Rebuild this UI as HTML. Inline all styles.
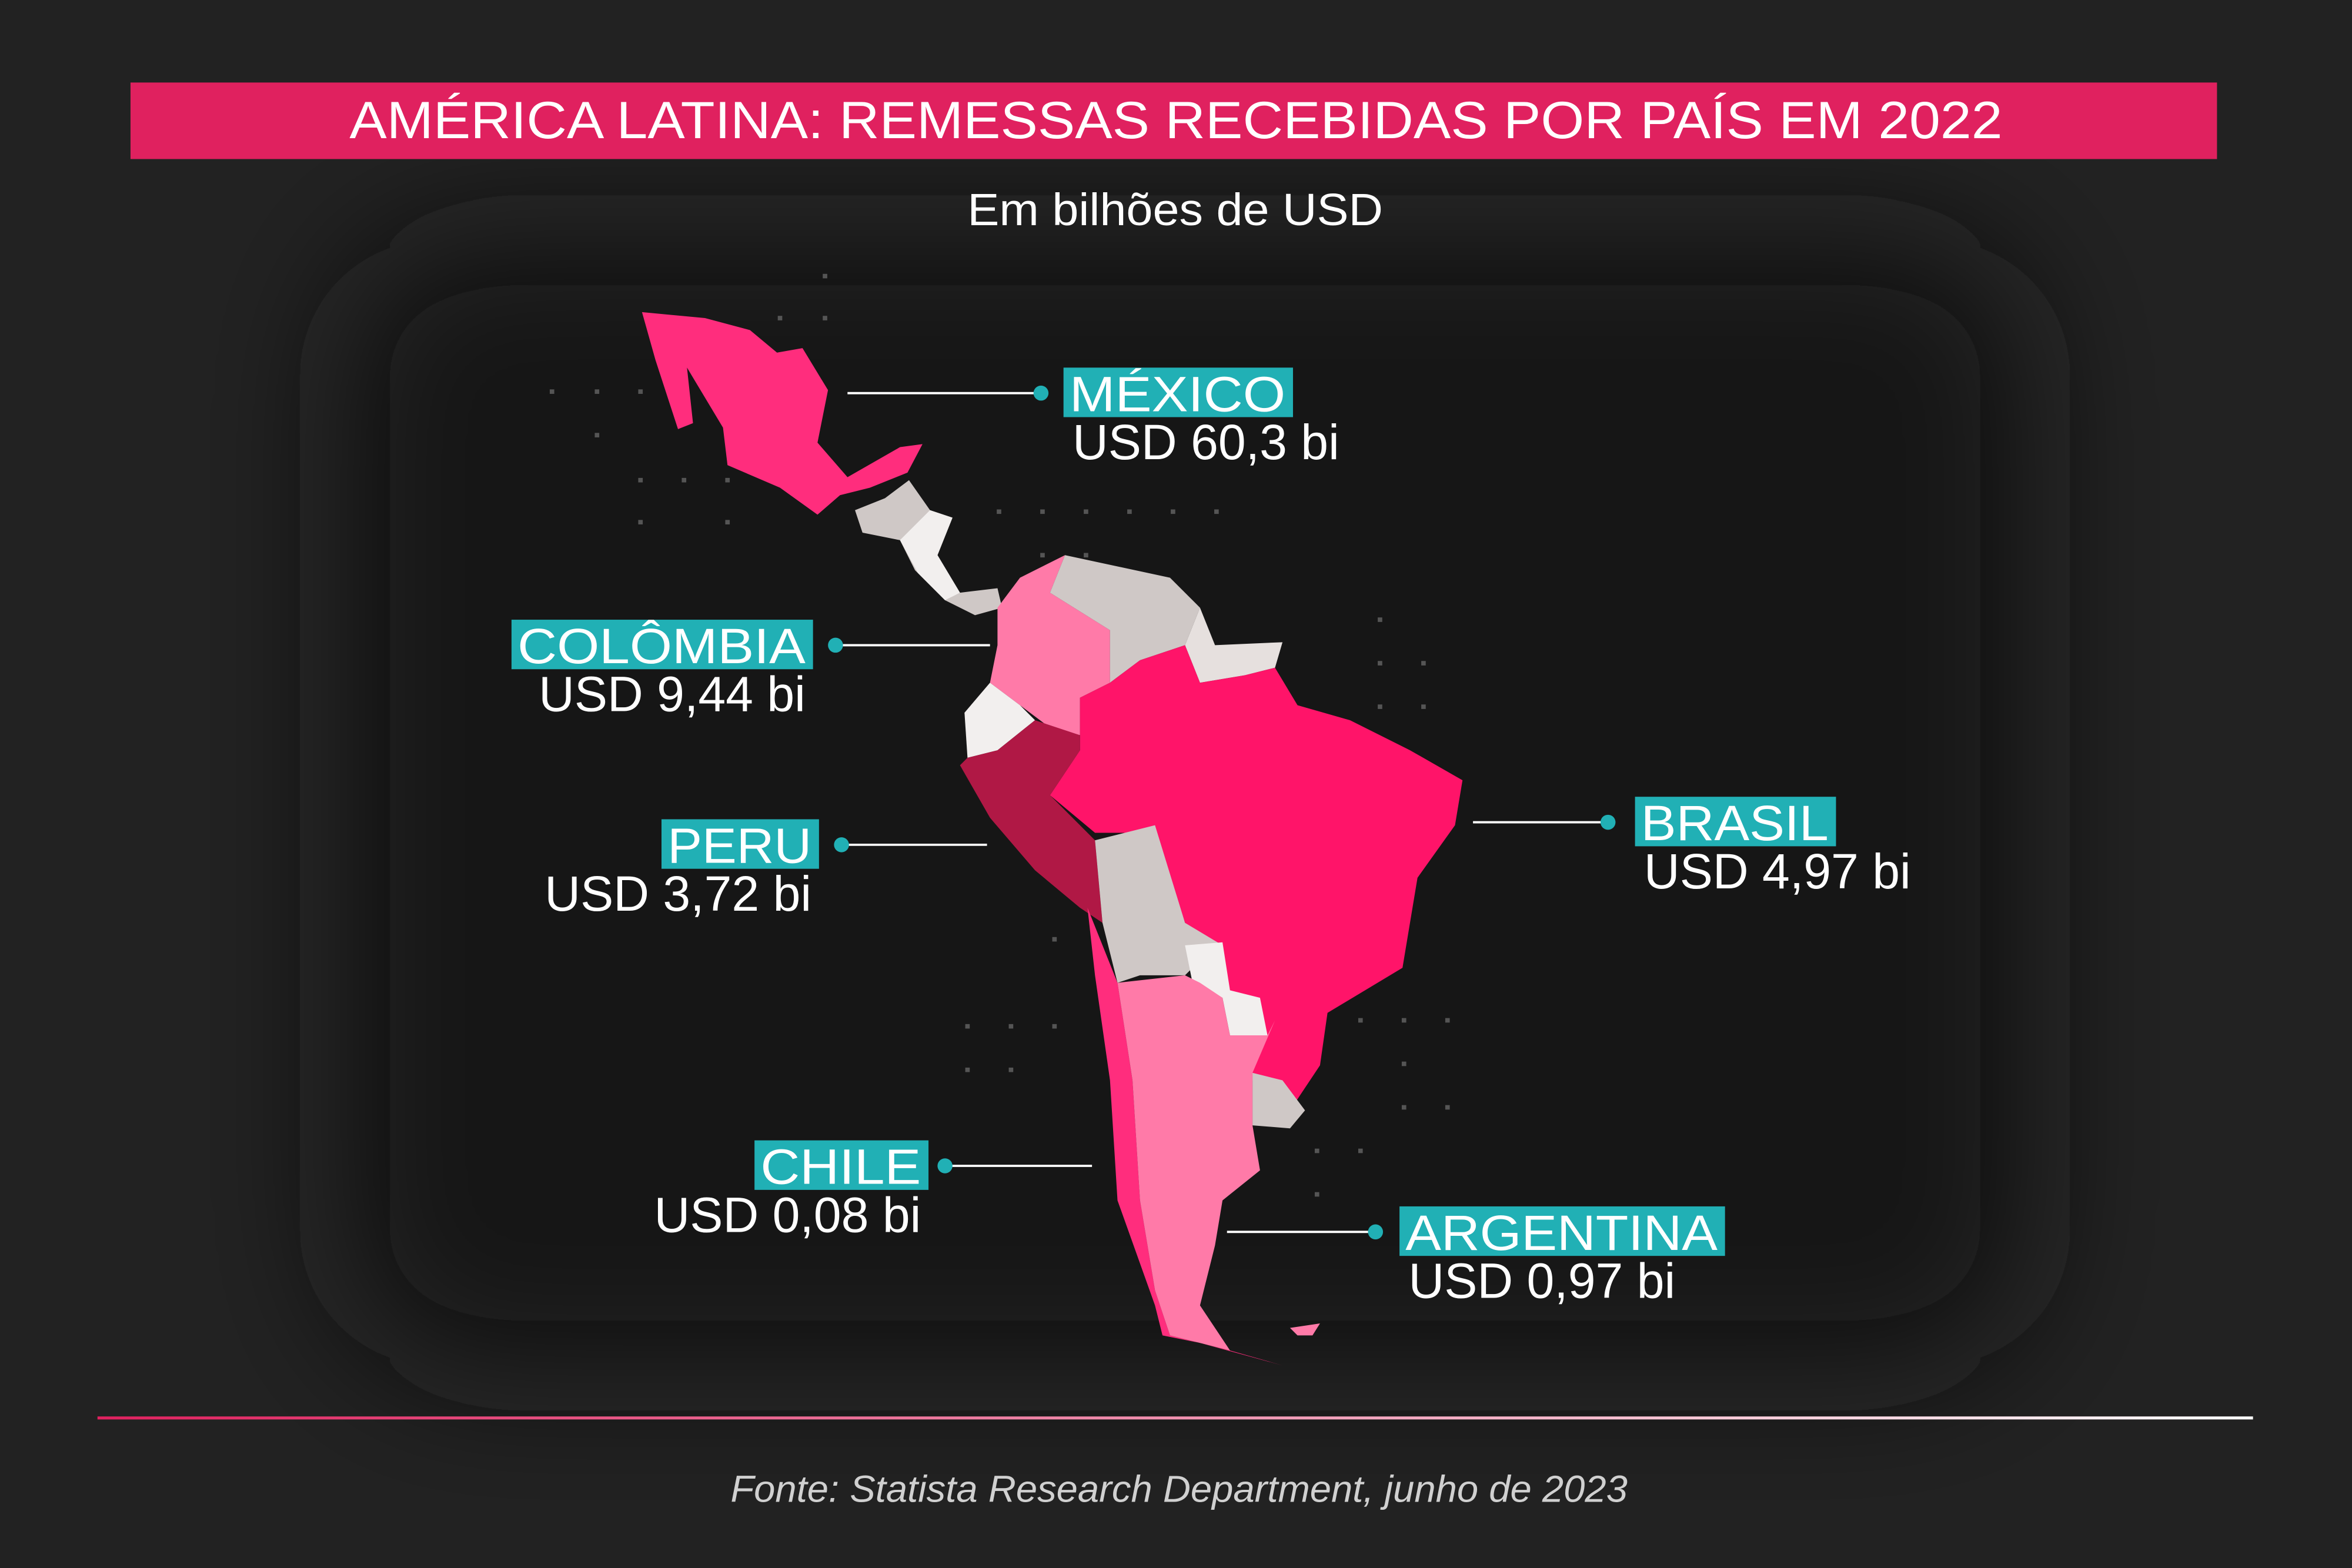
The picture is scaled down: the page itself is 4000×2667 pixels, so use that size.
<!DOCTYPE html>
<html><head><meta charset="utf-8">
<style>
html,body{margin:0;padding:0;background:#222;}
svg{display:block;}
text{font-family:"Liberation Sans",sans-serif;}
</style></head>
<body>
<svg id="chart" width="4000" height="2667" viewBox="0 0 1568 1045" preserveAspectRatio="none" xmlns="http://www.w3.org/2000/svg">
<defs>
<filter id="blur" x="-30%" y="-30%" width="160%" height="160%"><feGaussianBlur stdDeviation="45"/></filter>
<linearGradient id="lg" x1="0" x2="1"><stop offset="0" stop-color="#e0215f"/><stop offset="1" stop-color="#ffffff"/></linearGradient>
</defs>
<rect width="1568" height="1045" fill="#222"/>
<rect x="230" y="160" width="1120" height="750" rx="90" fill="#161616" filter="url(#blur)"/>
<rect x="87" y="55" width="1391" height="51" fill="#e0215f"/>
<text x="233" y="92" textLength="1102" lengthAdjust="spacingAndGlyphs" font-size="35" fill="#fff">AMÉRICA LATINA: REMESSAS RECEBIDAS POR PAÍS EM 2022</text>
<text x="645" y="150" textLength="277" lengthAdjust="spacingAndGlyphs" font-size="30" fill="#fff">Em bilhões de USD</text>
<g id="deco" fill="#555"></g>
<g>
<polygon fill="#ff2d7d" points="428,208 470,212 500,220 518,235 535,232 552,260 545,295 565,318 600,298 615,296 605,315 580,325 560,330 545,343 520,325 485,310 482,285 458,245 462,282 452,286 437,240"/>
<polygon fill="#cfc8c6" points="570,340 590,332 606,320 620,340 635,345 625,370 640,395 665,392 668,405 650,410 630,400 610,380 600,360 575,355"/>
<polygon fill="#f2efee" points="600,360 620,340 635,345 625,370 640,395 630,400 612,382"/>
<polygon fill="#ff7aa8" points="665,405 680,385 710,370 700,395 740,420 740,455 720,465 720,490 700,485 680,470 660,455 665,430"/>
<polygon fill="#cfc8c6" points="710,370 780,385 800,405 790,430 760,440 740,455 740,420 700,395"/>
<polygon fill="#e6e0de" points="800,405 810,430 855,428 850,445 830,450 800,455 790,430"/>
<polygon fill="#f2efee" points="660,455 680,470 690,480 665,500 645,505 643,475"/>
<polygon fill="#ff1469" points="720,465 740,455 760,440 790,430 800,455 830,450 850,445 865,470 900,480 940,500 975,520 970,550 945,585 935,645 885,675 880,710 860,740 835,720 835,690 815,665 810,630 790,615 770,555 730,555 700,530 720,500"/>
<polygon fill="#b01845" points="645,505 665,500 690,480 720,490 720,500 700,530 730,560 735,615 720,605 690,580 660,545 640,510"/>
<polygon fill="#cfc8c6" points="730,560 770,550 790,615 815,630 800,640 790,650 760,650 745,655 735,615"/>
<polygon fill="#f2efee" points="790,630 815,628 820,660 840,665 845,690 820,690 815,665 795,655"/>
<polygon fill="#cfc8c6" points="835,715 855,720 870,740 860,752 835,750"/>
<polygon fill="#ff2d7d" points="725,605 745,655 755,720 760,800 770,860 780,890 820,900 855,910 800,895 775,890 770,870 745,800 740,720 730,650"/>
<polygon fill="#ff7aa8" points="745,655 790,650 800,655 815,665 820,690 845,690 850,680 835,715 835,750 840,780 815,800 810,830 800,870 820,900 780,890 770,860 760,800 755,720"/>
<polygon fill="#ff7aa8" points="860,885 880,882 875,890 865,890"/>
</g>
<g id="labels"></g>
<rect x="65" y="944" width="1437" height="2" fill="url(#lg)"/>
<text x="487" y="1001" textLength="598" lengthAdjust="spacingAndGlyphs" font-size="25" font-style="italic" fill="#d0d0d0">Fonte: Statista Research Department, junho de 2023</text>
</svg>
<script>
const countries = ["MÉXICO","COLÔMBIA","PERU","BRASIL","CHILE","ARGENTINA"];
const values = [60.3, 9.44, 3.72, 4.97, 0.08, 0.97];
const valueLabels = ["60,3","9,44","3,72","4,97","0,08","0,97"];
// layout: [lineX1, lineX2(dot), y, boxX, boxW, side]
const layout = [
 [565,694,262,709,153,"r"],
 [660,557,430,341,201,"l"],
 [658,561,563,441,105,"l"],
 [982,1072,548,1090,134,"r"],
 [728,630,777,503,116,"l"],
 [818,917,821,933,217,"r"]
];
const NS="http://www.w3.org/2000/svg";
const g=document.getElementById('labels');
function mk(t,a){const e=document.createElementNS(NS,t);for(const k in a)e.setAttribute(k,a[k]);return e;}
countries.forEach((c,i)=>{
 const [x1,x2,y,bx,bw,side]=layout[i];
 const ln=mk('line',{x1:x1,y1:y,x2:x2,y2:y,stroke:'#fff','stroke-width':1.5});
 
 
 g.appendChild(ln);
 const dot=mk('circle',{cx:x2,cy:y,r:5,fill:'#21b0b5'});
 
 
 g.appendChild(dot);
 const box=mk('rect',{x:bx,y:y-17,width:bw,height:33,fill:'#21b0b5'});
 
 
 g.appendChild(box);
 const t=mk('text',{x:bx+4,y:y+12,textLength:bw-9,lengthAdjust:'spacingAndGlyphs','font-size':33,fill:'#fff'});
 t.textContent=c;
 
 
 g.appendChild(t);
 const v=mk('text',{x:side==='r'?bx+6:bx+bw-5,y:y+44,'text-anchor':side==='r'?'start':'end','font-size':33,fill:'#fff'});
 v.textContent='USD '+valueLabels[i]+' bi';
 
 
 g.appendChild(v);
});
const deco=document.getElementById('deco');
const dots=[[368,261],[398,261],[427,261],[398,290],[427,320],[456,320],[485,320],[427,348],[485,348],[550,184],[520,212],[550,212],[666,341],[695,341],[724,341],[753,341],[782,341],[811,341],[695,370],[724,370],[920,413],[920,442],[949,442],[920,471],[949,471],[907,680],[936,680],[965,680],[936,709],[936,738],[965,738],[878,767],[907,767],[878,796],[645,684],[674,684],[703,684],[645,713],[674,713],[703,626]];
dots.forEach(d=>{const r=mk('rect',{x:d[0]-1.5,y:d[1]-1.5,width:3,height:3});
 
 
 deco.appendChild(r);});
</script>
</body></html>
